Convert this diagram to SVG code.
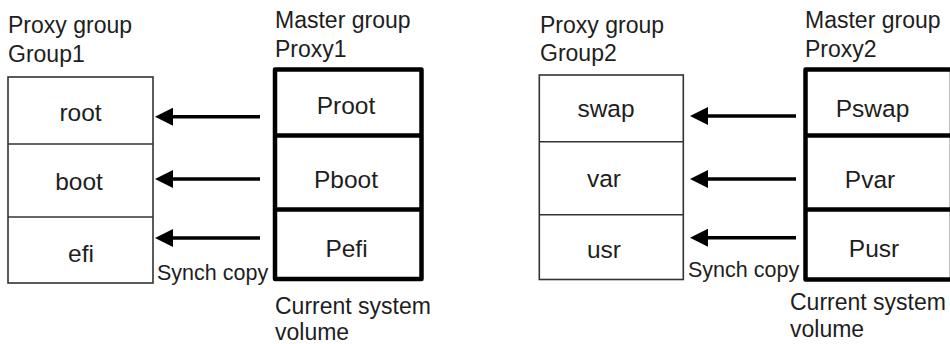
<svg xmlns="http://www.w3.org/2000/svg" width="950" height="344" viewBox="0 0 950 344">
<style>
text{font-family:"Liberation Sans",Arial,sans-serif;fill:#1e1e1e}
.hd{font-size:23px}
.cell{font-size:24.5px;text-anchor:middle}
.sc{font-size:21.5px}
.thin{fill:#fff;stroke:#333;stroke-width:1.6}
.thick{fill:#fff;stroke:#000;stroke-width:4.5;stroke-linejoin:round}
.div{stroke:#000;stroke-width:4.5}
.tdiv{stroke:#333;stroke-width:1.6}
.arrow{stroke:#000;stroke-width:3.5;fill:none;marker-end:url(#ah)}
</style>
<defs>
<marker id="ah" viewBox="0 0 18 18" markerWidth="18" markerHeight="18" refX="8" refY="9" orient="auto" markerUnits="userSpaceOnUse">
<path d="M0,0 L18,9 L0,18 Z" fill="#000"/>
</marker>
</defs>
<rect width="950" height="344" fill="#fff"/>

<g id="group1">
<text class="hd" x="8" y="33">Proxy group</text>
<text class="hd" x="8" y="62">Group1</text>
<rect class="thin" x="8" y="77" width="145" height="206"/>
<line class="tdiv" x1="8" y1="144" x2="153" y2="144"/>
<line class="tdiv" x1="8" y1="217" x2="153" y2="217"/>
<text class="cell" x="80.5" y="121">root</text>
<text class="cell" x="79" y="190">boot</text>
<text class="cell" x="81" y="262">efi</text>
</g>

<g id="proxy1">
<text class="hd" x="275" y="28">Master group</text>
<text class="hd" x="275" y="57">Proxy1</text>
<rect class="thick" x="275" y="69.5" width="146.5" height="209.5"/>
<line class="div" x1="275" y1="135.5" x2="421.5" y2="135.5"/>
<line class="div" x1="275" y1="209.5" x2="421.5" y2="209.5"/>
<text class="cell" x="346" y="113.5">Proot</text>
<text class="cell" x="346" y="188">Pboot</text>
<text class="cell" x="346.5" y="257">Pefi</text>
<text class="hd" x="275" y="314">Current system</text>
<text class="hd" x="275" y="340">volume</text>
</g>

<g id="group2">
<text class="hd" x="540" y="33">Proxy group</text>
<text class="hd" x="540" y="61">Group2</text>
<rect class="thin" x="539.3" y="75" width="144" height="204.5"/>
<line class="tdiv" x1="539.3" y1="141.7" x2="683.3" y2="141.7"/>
<line class="tdiv" x1="539.3" y1="214.8" x2="683.3" y2="214.8"/>
<text class="cell" x="606" y="117">swap</text>
<text class="cell" x="604" y="187">var</text>
<text class="cell" x="604" y="258">usr</text>
</g>

<g id="proxy2">
<text class="hd" x="805" y="28">Master group</text>
<text class="hd" x="805" y="57">Proxy2</text>
<rect class="thick" x="805.5" y="69.5" width="146.5" height="210"/>
<line class="div" x1="805.5" y1="135.5" x2="952" y2="135.5"/>
<line class="div" x1="805.5" y1="209.5" x2="952" y2="209.5"/>
<text class="cell" x="872.5" y="117">Pswap</text>
<text class="cell" x="870" y="187.5">Pvar</text>
<text class="cell" x="874" y="256.5">Pusr</text>
<text class="hd" x="790" y="310">Current system</text>
<text class="hd" x="790" y="337">volume</text>
</g>

<g id="connectors">
<line class="arrow" x1="260" y1="116.7" x2="165" y2="116.7"/>
<line class="arrow" x1="260" y1="179" x2="165" y2="179"/>
<line class="arrow" x1="260" y1="238" x2="165" y2="238"/>
<text class="sc" x="157" y="280">Synch copy</text>
<line class="arrow" x1="796" y1="116" x2="700" y2="116"/>
<line class="arrow" x1="796" y1="179" x2="700" y2="179"/>
<line class="arrow" x1="796" y1="237.7" x2="700" y2="237.7"/>
<text class="sc" x="688" y="277">Synch copy</text>
</g>
</svg>
